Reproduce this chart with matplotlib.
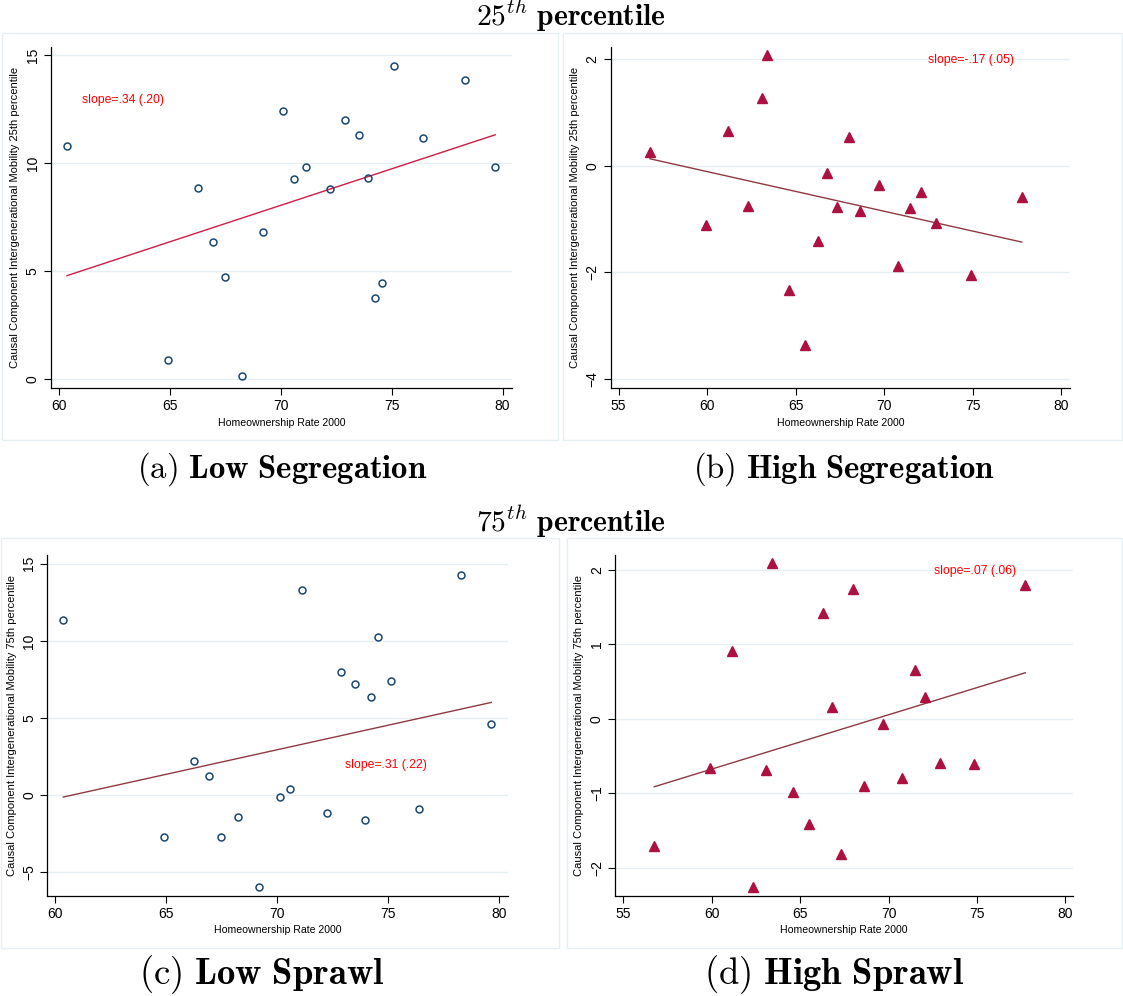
import numpy as np
import matplotlib
matplotlib.use("Agg")
import matplotlib.pyplot as plt

plt.rcParams["font.family"] = ["Liberation Sans", "DejaVu Sans"]
plt.rcParams["mathtext.fontset"] = "cm"

# ---- data ----
# low segregation (circles)
x_low = [60.35, 64.92, 66.26, 66.95, 67.49, 68.26, 69.19, 70.11, 70.59, 71.11,
         72.23, 72.87, 73.53, 73.94, 74.24, 74.56, 75.11, 76.41, 78.32, 79.67]
y_a = [10.80, 0.88, 8.84, 6.33, 4.73, 0.14, 6.83, 12.44, 9.25, 9.84,
       8.82, 12.02, 11.29, 9.30, 3.75, 4.43, 14.49, 11.19, 13.87, 9.83]

# low sprawl (circles)
x_c = [60.36, 64.91, 66.27, 66.94, 67.48, 68.25, 69.18, 70.11, 70.59, 71.12,
       72.23, 72.86, 73.52, 73.94, 74.23, 74.53, 75.12, 76.41, 78.30, 79.65]
y_c = [11.35, -2.71, 2.24, 1.27, -2.69, -1.42, -5.95, -0.10, 0.38, 13.29,
       -1.18, 8.00, 7.22, -1.61, 6.38, 10.23, 7.42, -0.90, 14.24, 4.63]

# high segregation (triangles)
x_b = [56.77, 59.94, 61.18, 62.33, 63.10, 63.40, 64.61, 65.51, 66.28, 66.79,
       67.34, 68.03, 68.64, 69.71, 70.77, 71.48, 72.09, 72.92, 74.89, 77.78]
y_b = [0.264, -1.115, 0.645, -0.753, 1.276, 2.081, -2.327, -3.351, -1.403, -0.129,
       -0.778, 0.533, -0.847, -0.360, -1.883, -0.797, -0.485, -1.078, -2.039, -0.585]

# high sprawl (triangles)
x_d = [56.75, 59.92, 61.17, 62.32, 63.09, 63.39, 64.60, 65.50, 66.27, 66.80,
       67.33, 68.01, 68.61, 69.69, 70.74, 71.48, 72.08, 72.89, 74.85, 77.74]
y_d = [-1.705, -0.662, 0.913, -2.250, -0.685, 2.098, -0.975, -1.409, 1.427, 0.166,
       -1.817, 1.745, -0.895, -0.072, -0.792, 0.662, 0.291, -0.586, -0.600, 1.794]

# fitted lines (endpoints)
fit_a = ([60.35, 79.67], [4.79, 11.32])
fit_b = ([56.77, 77.78], [0.13, -1.43])
fit_c = ([60.36, 79.65], [-0.12, 6.01])
fit_d = ([56.75, 77.74], [-0.91, 0.62])

slope_txt = ["slope=.34 (.20)", "slope=-.17 (.05)", "slope=.31 (.22)", "slope=.07 (.06)"]
slope_pos = [(61.05, 12.95), (72.46, 1.99), (73.06, 1.95), (72.57, 1.99)]

ylabels = ["Causal Component Intergenerational Mobility 25th percentile"] * 2 + \
          ["Causal Component Intergenerational Mobility 75th percentile"] * 2
xticks = [[60, 65, 70, 75, 80], [55, 60, 65, 70, 75, 80],
          [60, 65, 70, 75, 80], [55, 60, 65, 70, 75, 80]]
yticks = [[0, 5, 10, 15], [-4, -2, 0, 2], [-5, 0, 5, 10, 15], [-2, -1, 0, 1, 2]]
xlims = [(59.63, 80.41), (54.55, 80.51), (59.64, 80.39), (54.53, 80.45)]
ylims = [(-0.43, 15.40), (-4.17, 2.23), (-6.53, 15.56), (-2.376, 2.20)]

captions = [r"$\mathrm{(a)}\ \mathbf{Low\ Segregation}$",
            r"$\mathrm{(b)}\ \mathbf{High\ Segregation}$",
            r"$\mathrm{(c)}\ \mathbf{Low\ Sprawl}$",
            r"$\mathrm{(d)}\ \mathbf{High\ Sprawl}$"]

W, H = 1123, 996
fig = plt.figure(figsize=(W / 100, H / 100), dpi=100)

NAVY = "#1a476f"
CRAN = "#ad1140"
MAROON = "#8e3a42"
GRID = "#e6eff1"

# axes boxes in pixels: left, right, top, bottom
boxes = [(51, 511.7, 46.7, 388.3), (610.7, 1070, 46.7, 388.3),
         (47.3, 507.7, 555, 896), (615, 1073.3, 555, 896)]
# graph region outlines
regions = [(2, 558, 33, 440), (563, 1122, 33, 440),
           (1, 559, 538, 948), (567, 1122, 538, 948)]

series = [(x_low, y_a, fit_a), (x_b, y_b, fit_b), (x_c, y_c, fit_c), (x_d, y_d, fit_d)]

for i in range(4):
    l, r, t, b = regions[i]
    fig.patches.append(plt.Rectangle((l / W, 1 - b / H), (r - l) / W, (b - t) / H,
                                     transform=fig.transFigure, fill=False,
                                     ec=GRID, lw=1.0))
    l, r, t, b = boxes[i]
    ax = fig.add_axes([l / W, 1 - b / H, (r - l) / W, (b - t) / H])
    xs, ys, fit = series[i]
    if i in (0, 2):
        ax.plot(xs, ys, "o", ms=5, mfc="none", mec=NAVY, mew=1.1, zorder=3)
        lc = "#d01c44" if i == 0 else MAROON
    else:
        ax.plot(xs, ys, "^", ms=6.5, color=CRAN, mec=CRAN, zorder=3)
        lc = MAROON
    ax.plot(fit[0], fit[1], color=lc, lw=1.0, zorder=2)
    ax.text(slope_pos[i][0], slope_pos[i][1], slope_txt[i], color="red",
            fontsize=8.8, va="center", ha="left")
    ax.set_xlim(*xlims[i])
    ax.set_ylim(*ylims[i])
    ax.set_xticks(xticks[i])
    ax.set_yticks(yticks[i])
    ax.tick_params(labelsize=10, length=5, width=0.8, color="black", pad=3)
    for lab in ax.get_yticklabels():
        lab.set_rotation(90)
        lab.set_va("center")
    ax.yaxis.grid(True, color=GRID, lw=1.0)
    ax.set_axisbelow(True)
    for s in ("top", "right"):
        ax.spines[s].set_visible(False)
    for s in ("left", "bottom"):
        ax.spines[s].set_linewidth(0.9)
    ax.set_xlabel("Homeownership Rate 2000", fontsize=7.6, labelpad=3)
    ax.set_ylabel(ylabels[i], fontsize=8, labelpad=4)

cap_pos = [(282, 469), (844, 469), (262, 975), (834, 975)]
cap_size = [23.6, 23.6, 26.4, 26.4]
for (cx, cy), txt, fs in zip(cap_pos, captions, cap_size):
    fig.text(cx / W, 1 - cy / H, txt, ha="center", va="center", fontsize=fs)

fig.text(571 / W, 1 - 16 / H, r"$\mathbf{25}^{th}\ \mathbf{percentile}$",
         ha="center", va="center", fontsize=21.3)
fig.text(571 / W, 1 - 522 / H, r"$\mathbf{75}^{th}\ \mathbf{percentile}$",
         ha="center", va="center", fontsize=21.3)

fig.savefig("out.png", dpi=100)
